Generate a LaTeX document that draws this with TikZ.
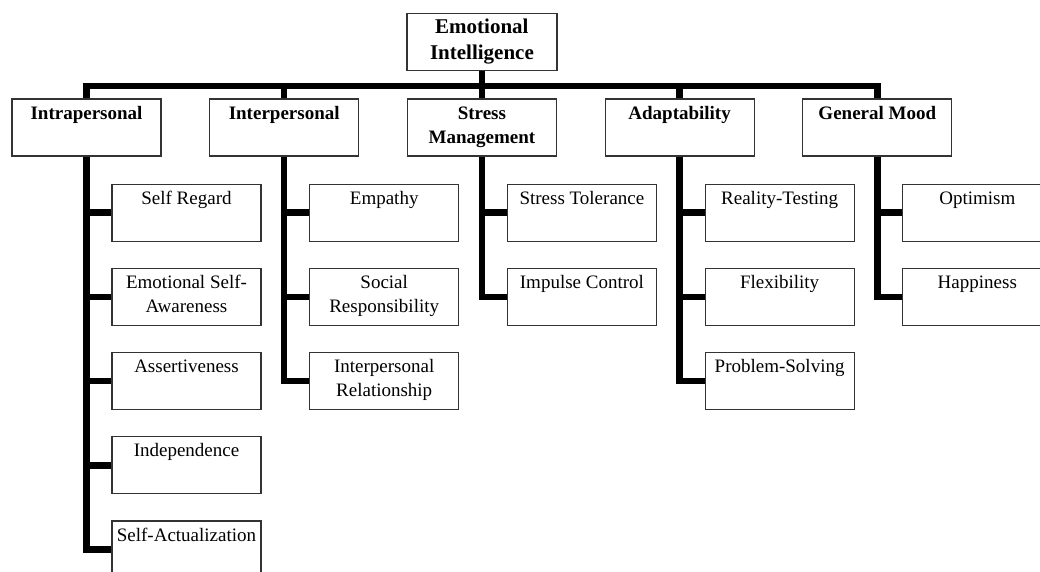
\documentclass[tikz,border=0pt]{standalone}
\usepackage{fontspec}
\setmainfont{Liberation Serif}
\usetikzlibrary{positioning}

\begin{document}
\begin{tikzpicture} [x=1pt, y=-1pt, node distance=26pt,
    head/.style={draw=black!80, line width=1.2pt, minimum width=150pt, minimum height=57pt,
        align=center, inner sep=2pt, font=\fontsize{21}{26}\selectfont\bfseries},
    area/.style={draw=black!80, line width=1.2pt, text width=145pt, align=flush center,
        inner xsep=2pt, inner ysep=5pt, text height=15pt, text depth=32pt,
        font=\fontsize{19}{24}\selectfont\bfseries},
    skill/.style={area, font=\fontsize{19}{24}\selectfont},
    link/.style={line width=6.5pt}]
    \useasboundingbox (0,0) rectangle (1040,571);

    \node[area] (intra) at (86.5,127.5) {Intrapersonal};
    \node[area,right=47.5pt of intra] (inter) {Interpersonal};
    \node[area,right=47.5pt of inter] (stress) {Stress\\Management};
    \node[area,right=47.5pt of stress] (adapt) {Adaptability};
    \node[area,right=47.5pt of adapt] (mood) {General Mood};
    \node[head,above=27.5pt of stress] (root) {Emotional\\Intelligence};

    \node[skill,anchor=north west] (selfreg) at ([shift={(100,27)}]intra.south west) {Self Regard};
    \node[skill,below=of selfreg] (selfaware) {Emotional Self-\\Awareness};
    \node[skill,below=of selfaware] (assert) {Assertiveness};
    \node[skill,below=of assert] (indep) {Independence};
    \node[skill,below=of indep] (selfact) {Self-Actualization};

    \node[skill,anchor=north west] (empathy) at ([shift={(100,27)}]inter.south west) {Empathy};
    \node[skill,below=of empathy] (social) {Social\\Responsibility};
    \node[skill,below=of social] (relation) {Interpersonal\\Relationship};

    \node[skill,anchor=north west] (tolerance) at ([shift={(100,27)}]stress.south west) {Stress Tolerance};
    \node[skill,below=of tolerance] (impulse) {Impulse Control};

    \node[skill,anchor=north west] (reality) at ([shift={(100,27)}]adapt.south west) {Reality-Testing};
    \node[skill,below=of reality] (flex) {Flexibility};
    \node[skill,below=of flex] (problem) {Problem-Solving};

    \node[skill,anchor=north west] (optim) at ([shift={(100,27)}]mood.south west) {Optimism};
    \node[skill,below=of optim] (happy) {Happiness};

    % top bus
    \path (root.south) -- (stress.north) coordinate[pos=0.55] (bus);
    \draw[link] (root) -- (stress);
    \draw[link] (intra.north) |- (bus) -| (mood.north);
    \draw[link] (inter.north) -- (inter.north |- bus);
    \draw[link] (adapt.north) -- (adapt.north |- bus);

    % branches
    \draw[link] (intra.south) |- (selfact.west);
    \foreach \n in {selfreg,selfaware,assert,indep}
        \draw[link] (intra.south |- \n.west) -- (\n.west);
    \draw[link] (inter.south) |- (relation.west);
    \foreach \n in {empathy,social}
        \draw[link] (inter.south |- \n.west) -- (\n.west);
    \draw[link] (stress.south) |- (impulse.west);
    \draw[link] (stress.south |- tolerance.west) -- (tolerance.west);
    \draw[link] (adapt.south) |- (problem.west);
    \foreach \n in {reality,flex}
        \draw[link] (adapt.south |- \n.west) -- (\n.west);
    \draw[link] (mood.south) |- (happy.west);
    \draw[link] (mood.south |- optim.west) -- (optim.west);
\end{tikzpicture}
\end{document}
